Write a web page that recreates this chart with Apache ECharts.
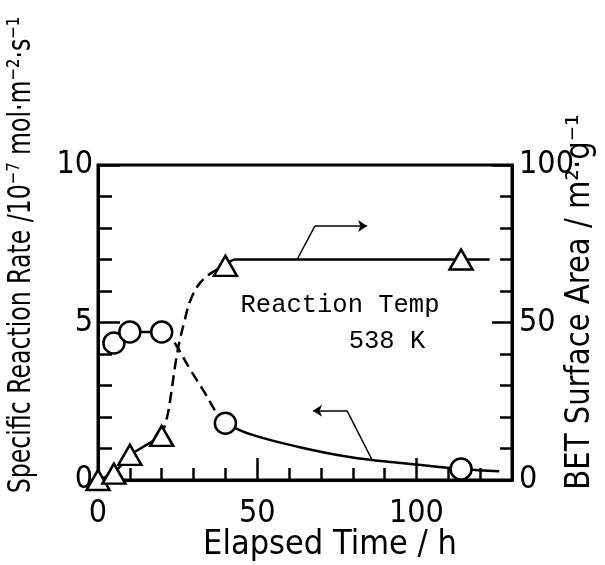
<!DOCTYPE html>
<html>
<head>
    <meta charset="UTF-8"/>
    <title>Specific Reaction Rate / BET Surface Area</title>
    <style>
        html, body { margin: 0; padding: 0; background: #fff; }
        #chart { width: 605px; height: 565px; }
    </style>
</head>
<body>
<div id="chart"></div>
<script src="https://cdn.jsdelivr.net/npm/echarts@6/dist/echarts.min.js" type="text/javascript"></script>
<script type="text/javascript">
    // measured points
    const rateTime = [5, 10, 20, 40, 114];
    const rateValue = [4.35, 4.7, 4.7, 1.8, 0.35];
    const betTime = [0, 5, 10, 20, 40, 114];
    const betValue = [0, 2, 8, 14, 68, 70];

    // hand-drawn curves
    const rateSolidA = [[5, 4.35], [10, 4.7], [20, 4.7]];
    const rateDashed = [[20, 4.7], [23, 4.5], [25, 4.2], [29, 3.5], [33.6, 2.76], [37.4, 2.1], [40, 1.8]];
    const rateSolidB = [[40, 1.8], [48, 1.45], [63, 1.05], [79, 0.73], [95, 0.54], [114, 0.35], [126, 0.28]];
    const betSolidA = [[0, 0], [5, 2], [10, 8], [20, 14]];
    const betDashed = [[20, 14], [21.7, 20], [22.6, 25], [25, 41], [27.3, 51], [29, 57], [32, 62.5], [36, 66], [40, 68]];
    const betSolidB = [[40, 68], [43, 70], [123, 70]];

    // annotation arrows (rate-axis units)
    const arrowUp = [[62.5, 7.0], [68.1, 8.06], [84.5, 8.06]];
    const arrowDown = [[86, 0.65], [78.2, 2.2], [67.5, 2.2]];

    const xTicks = [0, 50, 100];

    const numFont = "'Liberation Sans Narrow', 'DejaVu Sans Condensed', 'Liberation Sans', sans-serif";
    const nameFont = "'DejaVu Sans Condensed', 'DejaVu Sans', sans-serif";

    const chart = echarts.init(document.getElementById("chart"));

    const black = "#000";
    const tickStyle = {color: black, width: 2.5};

    function arrowMark(pts) {
        const segs = [];
        for (let i = 0; i < pts.length - 1; i++) {
            segs.push([{coord: pts[i], symbol: "none"}, {coord: pts[i + 1], symbol: i === pts.length - 2 ? "arrow" : "none"}]);
        }
        return {
            silent: true,
            symbolSize: 9,
            label: {show: false},
            lineStyle: {color: black, width: 1.5, type: "solid"},
            data: segs
        };
    }

    const option = {
        backgroundColor: "#fff",
        animation: false,
        grid: {left: 98, right: 93, top: 165, bottom: 85, show: true, borderColor: black, borderWidth: 3},
        xAxis: [
            {
                type: "value", min: 0, max: 130, interval: 10, position: "bottom",
                splitLine: {show: false},
                axisLine: {show: true, onZero: false, lineStyle: {color: black, width: 3}},
                axisTick: {show: true, inside: true, length: 12, lineStyle: tickStyle},
                axisLabel: {
                    show: true, margin: 18, color: black, fontSize: 32, fontFamily: numFont,
                    formatter: function (v) { return xTicks.indexOf(v) >= 0 ? String(v) : ""; }
                }
            },
            {
                type: "value", min: 0, max: 130, interval: 50, position: "bottom",
                splitLine: {show: false},
                axisLine: {show: false, onZero: false},
                axisTick: {show: true, inside: true, length: 22, lineStyle: tickStyle},
                axisLabel: {show: false}
            }
        ],
        yAxis: [
            {
                type: "value", min: 0, max: 10, interval: 5, position: "left",
                splitLine: {show: false},
                axisLine: {show: true, onZero: false, lineStyle: {color: black, width: 3}},
                axisTick: {show: true, inside: true, length: 22, lineStyle: tickStyle},
                minorTick: {show: true, splitNumber: 5, length: 14, lineStyle: tickStyle},
                minorSplitLine: {show: false},
                axisLabel: {show: true, margin: 5, color: black, fontSize: 32, fontFamily: numFont}
            },
            {
                type: "value", min: 0, max: 100, interval: 50, position: "right",
                splitLine: {show: false},
                axisLine: {show: true, onZero: false, lineStyle: {color: black, width: 3}},
                axisTick: {show: true, inside: true, length: 20, lineStyle: tickStyle},
                minorTick: {show: true, splitNumber: 5, length: 12, lineStyle: tickStyle},
                minorSplitLine: {show: false},
                axisLabel: {show: true, margin: 7, color: black, fontSize: 32, fontFamily: numFont}
            }
        ],
        graphic: [
            {
                type: "text", x: 22, y: 255, rotation: Math.PI / 2, scaleX: 0.82,
                style: {
                    text: "Specific Reaction Rate /10⁻⁷ mol·m⁻²·s⁻¹",
                    fontSize: 32, fontFamily: nameFont, fill: black, align: "center", verticalAlign: "middle"
                }
            },
            {
                type: "text", x: 580, y: 302, rotation: Math.PI / 2, scaleX: 0.98,
                style: {
                    text: "BET Surface Area / m²·g⁻¹",
                    fontSize: 33, fontFamily: nameFont, fill: black, align: "center", verticalAlign: "middle"
                }
            },
            {
                type: "text", x: 330, y: 545, scaleX: 1.0,
                style: {
                    text: "Elapsed Time / h",
                    fontSize: 34, fontFamily: nameFont, fill: black, align: "center", verticalAlign: "middle"
                }
            },
            {
                type: "text", x: 340, y: 305,
                style: {
                    text: "Reaction Temp",
                    fontSize: 25.5, fontFamily: "'Liberation Mono', monospace", fill: black, align: "center", verticalAlign: "middle"
                }
            },
            {
                type: "text", x: 387, y: 341,
                style: {
                    text: "538 K",
                    fontSize: 25.5, fontFamily: "'Liberation Mono', monospace", fill: black, align: "center", verticalAlign: "middle"
                }
            }
        ],
        series: [
            {
                type: "line", xAxisIndex: 0, yAxisIndex: 0, data: rateSolidA, symbol: "none",
                lineStyle: {color: black, width: 2.5}, z: 3
            },
            {
                type: "line", xAxisIndex: 0, yAxisIndex: 0, data: rateDashed, smooth: 0.4, symbol: "none",
                lineStyle: {color: black, width: 2.5, type: [11, 6]}, z: 3
            },
            {
                type: "line", xAxisIndex: 0, yAxisIndex: 0, data: rateSolidB, smooth: 0.4, symbol: "none",
                lineStyle: {color: black, width: 2.5}, z: 3,
                markLine: arrowMark(arrowDown)
            },
            {
                type: "line", xAxisIndex: 0, yAxisIndex: 1, data: betSolidA, symbol: "none", clip: false,
                lineStyle: {color: black, width: 2.5}, z: 3
            },
            {
                type: "line", xAxisIndex: 0, yAxisIndex: 1, data: betDashed, smooth: 0.4, symbol: "none",
                lineStyle: {color: black, width: 2.5, type: [11, 6]}, z: 3
            },
            {
                type: "line", xAxisIndex: 0, yAxisIndex: 1, data: betSolidB, smooth: 0.3, symbol: "none",
                lineStyle: {color: black, width: 2.5}, z: 3
            },
            {
                type: "line", xAxisIndex: 0, yAxisIndex: 0, data: [], symbol: "none",
                markLine: arrowMark(arrowUp)
            },
            {
                type: "scatter", xAxisIndex: 0, yAxisIndex: 0, clip: false, z: 5,
                data: rateTime.map(function (t, i) { return [t, rateValue[i]]; }),
                symbol: "circle", symbolSize: 21,
                itemStyle: {color: "#fff", borderColor: black, borderWidth: 2.5, opacity: 1}
            },
            {
                type: "scatter", xAxisIndex: 0, yAxisIndex: 1, clip: false, z: 5,
                data: betTime.map(function (t, i) { return [t, betValue[i]]; }),
                symbol: "triangle", symbolSize: [23, 20],
                itemStyle: {color: "#fff", borderColor: black, borderWidth: 2.5, opacity: 1}
            }
        ]
    };
    chart.setOption(option);
</script>
</body>
</html>
